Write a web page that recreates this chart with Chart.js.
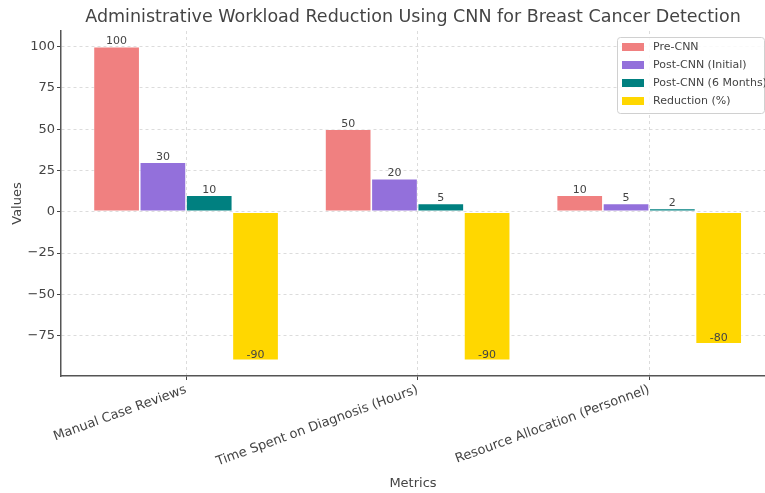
<!DOCTYPE html>
<html>
<head>
<meta charset="utf-8">
<script src="https://cdn.jsdelivr.net/npm/chart.js@4.4.1/dist/chart.umd.min.js"></script>
<style>
  html, body { margin: 0; padding: 0; background: #fff; }
  #wrap { width: 765px; height: 493px; }
</style>
</head>
<body>
<div id="wrap"><canvas id="chart" width="765" height="493"></canvas></div>
<script>
// chart data
const categories = ['Manual Case Reviews', 'Time Spent on Diagnosis (Hours)', 'Resource Allocation (Personnel)'];
const seriesNames = ['Pre-CNN', 'Post-CNN (Initial)', 'Post-CNN (6 Months)', 'Reduction (%)'];
const preCnn = [100, 50, 10];
const postCnnInitial = [30, 20, 5];
const postCnnSixMonths = [10, 5, 2];
const reductionPct = [-90, -90, -80];
const yTicks = [-75, -50, -25, 0, 25, 50, 75, 100];

const colors = ['#F08080', '#9370DB', '#008080', '#FFD700'];
const FONT = "'DejaVu Sans', sans-serif";
const textColor = '#444';

const seriesValues = [preCnn, postCnnInitial, postCnnSixMonths, reductionPct];

// value labels: matplotlib-style, text bottom sitting on the bar value
const valueLabels = {
    id: 'valueLabels',
    afterDatasetsDraw(chart) {
        const ctx = chart.ctx;
        ctx.save();
        ctx.font = '11px ' + FONT;
        ctx.fillStyle = textColor;
        ctx.textAlign = 'center';
        ctx.textBaseline = 'bottom';
        chart.data.datasets.forEach((ds, i) => {
            chart.getDatasetMeta(i).data.forEach((bar, j) => {
                const v = ds.data[j].y;
                const y = chart.scales.y.getPixelForValue(v);
                ctx.fillText(String(v), bar.x, y);
            });
        });
        ctx.restore();
    }
};

// legend box in the upper right corner
const cornerLegend = {
    id: 'cornerLegend',
    afterDraw(chart) {
        const ctx = chart.ctx;
        const x0 = 617, y0 = 37, w = 147, h = 76;
        ctx.save();
        ctx.fillStyle = 'rgba(255,255,255,0.85)';
        ctx.strokeStyle = '#d0d0d0';
        ctx.lineWidth = 1;
        ctx.beginPath();
        ctx.roundRect(x0 + 0.5, y0 + 0.5, w, h, 3);
        ctx.fill();
        ctx.stroke();
        ctx.font = '11px ' + FONT;
        ctx.textAlign = 'left';
        ctx.textBaseline = 'middle';
        chart.data.datasets.forEach((ds, i) => {
            const cy = y0 + 10 + i * 18;
            ctx.fillStyle = ds.backgroundColor;
            ctx.fillRect(x0 + 5, cy - 4, 22, 8);
            ctx.fillStyle = textColor;
            ctx.fillText(ds.label, x0 + 36, cy);
        });
        ctx.restore();
    }
};

new Chart(document.getElementById('chart'), {
    type: 'bar',
    data: {
        datasets: seriesNames.map((name, i) => ({
            label: name,
            data: categories.map((c, j) => ({ x: j, y: seriesValues[i][j] })),
            backgroundColor: colors[i],
            borderColor: 'rgba(255,255,255,0.7)',
            borderWidth: 0.8,
            borderSkipped: false,
            categoryPercentage: 0.8,
            barPercentage: 1.0
        }))
    },
    options: {
        responsive: false,
        animation: false,
        layout: { padding: { left: 0, right: 0, top: 0, bottom: 0 } },
        plugins: {
            legend: { display: false },
            tooltip: { enabled: false },
            title: {
                display: true,
                fullSize: false,
                text: 'Administrative Workload Reduction Using CNN for Breast Cancer Detection',
                color: textColor,
                font: { family: FONT, size: 17.5, weight: 'normal' },
                padding: { top: 7, bottom: 3 }
            }
        },
        scales: {
            x: {
                type: 'linear',
                offset: false,
                min: -0.54,
                max: 2.5,
                afterBuildTicks(scale) {
                    scale.ticks = categories.map((c, j) => ({ value: j }));
                },
                grid: {
                    offset: false,
                    color: '#d4d4d4',
                    lineWidth: 0.8,
                    tickLength: 4,
                    tickColor: '#444',
                    tickBorderDash: [],
                    tickWidth: 1
                },
                border: { color: '#555', width: 1.5, dash: [3, 3] },
                ticks: {
                    color: textColor,
                    font: { family: FONT, size: 13 },
                    minRotation: 20,
                    maxRotation: 20,
                    padding: 2,
                    autoSkip: false,
                    callback: v => categories[v]
                },
                title: {
                    display: true,
                    text: 'Metrics',
                    color: textColor,
                    font: { family: FONT, size: 13 },
                    padding: { top: 0, bottom: 2 }
                },
                afterFit(scale) { scale.height = 117; }
            },
            y: {
                min: -99.5,
                max: 109.5,
                afterBuildTicks(scale) {
                    scale.ticks = yTicks.map(v => ({ value: v }));
                },
                grid: {
                    color: '#d4d4d4',
                    lineWidth: 0.8,
                    tickLength: 4,
                    tickColor: '#444',
                    tickBorderDash: [],
                    tickWidth: 1
                },
                border: { color: '#555', width: 1.5, dash: [3, 3] },
                ticks: {
                    color: textColor,
                    font: { family: FONT, size: 13 },
                    padding: 2,
                    callback: v => v < 0 ? '\u2212' + Math.abs(v) : String(v)
                },
                title: {
                    display: true,
                    text: 'Values',
                    color: textColor,
                    font: { family: FONT, size: 13 },
                    padding: { top: 10, bottom: 4 }
                },
                afterFit(scale) { scale.width = 61; }
            }
        }
    },
    plugins: [valueLabels, cornerLegend]
});
</script>
</body>
</html>
